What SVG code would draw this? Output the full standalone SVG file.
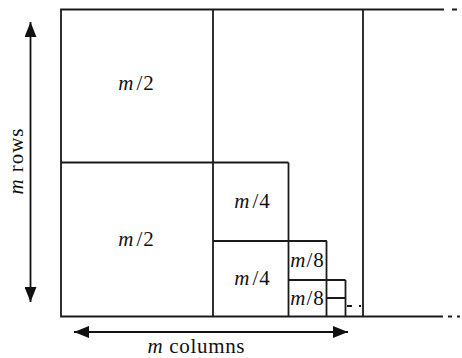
<svg xmlns="http://www.w3.org/2000/svg" width="462" height="358" viewBox="0 0 462 358">
<defs>
<marker id="ah" markerWidth="15" markerHeight="12" refX="15" refY="6" orient="auto-start-reverse" markerUnits="userSpaceOnUse">
<path d="M0,0 L15,6 L0,12 Z" fill="#111"/>
</marker>
</defs>
<style>
.ln{stroke:#1a1a1a;stroke-width:1.8;fill:none}
.lb{font-family:"Liberation Serif",serif;font-size:21px;fill:#111}
.it{font-style:italic}
.ar{stroke:#111;stroke-width:1.8;fill:none}
</style>
<rect width="462" height="358" fill="#fff"/>
<g id="blocks">
<g id="outer" class="ln">
<path d="M444,9.5 H61 V316.5 H443"/>
<path d="M452,9.5 H457 M448,316.5 H452 M457,316.5 H460"/>
<path d="M363,9.5 V316.5"/>
</g>
<g id="half-top">
<path class="ln" d="M213,9.5 V316.5"/>
<text class="lb" x="136" y="90" text-anchor="middle"><tspan class="it">m</tspan><tspan dx="3">/</tspan><tspan dx="1">2</tspan></text>
</g>
<g id="half-bottom">
<path class="ln" d="M61,162.5 H288.5"/>
<text class="lb" x="136" y="246" text-anchor="middle"><tspan class="it">m</tspan><tspan dx="3">/</tspan><tspan dx="1">2</tspan></text>
</g>
<g id="quarter-top">
<path class="ln" d="M288.5,162.5 V316.5"/>
<text class="lb" x="252" y="208" text-anchor="middle"><tspan class="it">m</tspan><tspan dx="3">/</tspan><tspan dx="1">4</tspan></text>
</g>
<g id="quarter-bottom">
<path class="ln" d="M213,241 H327"/>
<text class="lb" x="252" y="285" text-anchor="middle"><tspan class="it">m</tspan><tspan dx="3">/</tspan><tspan dx="1">4</tspan></text>
</g>
<g id="eighth-top">
<path class="ln" d="M326.5,241 V316.5"/>
<text class="lb" x="307" y="267" text-anchor="middle"><tspan class="it">m</tspan><tspan dx="1">/</tspan><tspan dx="1">8</tspan></text>
</g>
<g id="eighth-bottom">
<path class="ln" d="M288.5,280 H345.5"/>
<text class="lb" x="307" y="305" text-anchor="middle"><tspan class="it">m</tspan><tspan dx="1">/</tspan><tspan dx="1">8</tspan></text>
</g>
<g id="sixteenth">
<path class="ln" d="M345.5,280 V316.5 M326.5,298 H345.5"/>
<path class="ln" d="M347,306 H352 M359,306 H361"/>
</g>
</g>
<g id="connectors">
<path class="ar" d="M30.5,22 V302" marker-start="url(#ah)" marker-end="url(#ah)"/>
<path class="ar" d="M74,332 H348" marker-start="url(#ah)" marker-end="url(#ah)"/>
</g>
<g id="labels">
<text class="lb" transform="translate(23,161.5) rotate(-90)" text-anchor="middle" textLength="66" lengthAdjust="spacing"><tspan class="it">m</tspan> rows</text>
<text class="lb" x="196" y="353" text-anchor="middle" textLength="97" lengthAdjust="spacing"><tspan class="it">m</tspan> columns</text>
</g>
</svg>
